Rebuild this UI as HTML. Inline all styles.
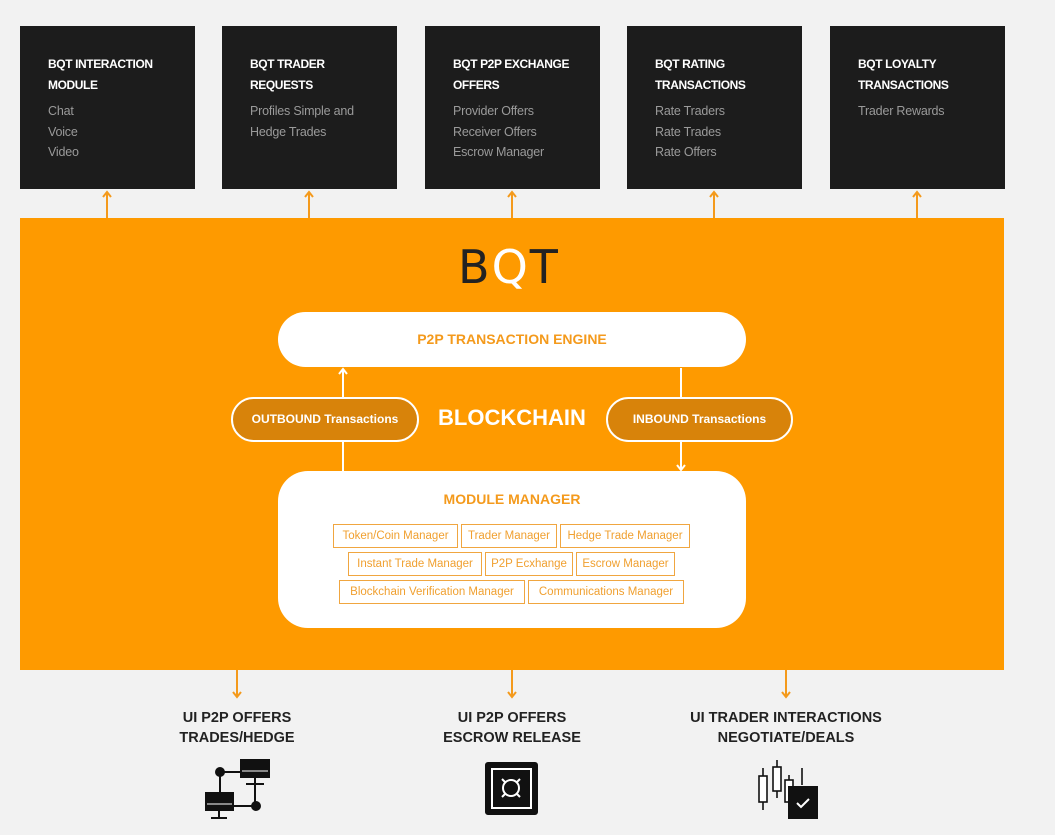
<!DOCTYPE html>
<html><head><style>
*{margin:0;padding:0;box-sizing:border-box}
body{width:1055px;height:835px;background:#f2f2f2;position:relative;overflow:hidden;font-family:"Liberation Sans",sans-serif}
.db{position:absolute;top:26px;width:175px;height:163px;background:#1c1c1c;padding:28px 0 0 28px}
.db b{display:block;color:#fff;font-size:12px;line-height:21px;letter-spacing:-0.4px}
.db span{display:block;color:#9a9a9a;font-size:12.5px;line-height:20.5px;margin-top:5px;letter-spacing:-0.2px}
.db span+span{margin-top:0}
.orange{position:absolute;left:20px;top:218px;width:984px;height:452px;background:#fe9a00}
.pill{position:absolute;background:#fff;border-radius:28px;color:#f49a1c;font-weight:bold;text-align:center}
.tx{position:absolute;height:45px;border:2px solid #fff;border-radius:23px;background:#d8830a;color:#fff;font-size:12px;font-weight:bold;text-align:center;line-height:41px}
.mb{position:absolute;height:24px;border:1px solid #f0a640;color:#f0a030;font-size:11.5px;text-align:center;line-height:22px;background:#fff}
.bl{position:absolute;width:240px;text-align:center;font-size:14.5px;font-weight:bold;color:#222;line-height:19.5px}
</style></head><body>
<div class="db" style="left:20px"><b>BQT INTERACTION<br>MODULE</b><span>Chat</span><span>Voice</span><span>Video</span></div>
<div class="db" style="left:222px"><b>BQT TRADER<br>REQUESTS</b><span>Profiles Simple and</span><span>Hedge Trades</span></div>
<div class="db" style="left:425px"><b>BQT P2P EXCHANGE<br>OFFERS</b><span>Provider Offers</span><span>Receiver Offers</span><span>Escrow Manager</span></div>
<div class="db" style="left:627px"><b>BQT RATING<br>TRANSACTIONS</b><span>Rate Traders</span><span>Rate Trades</span><span>Rate Offers</span></div>
<div class="db" style="left:830px"><b>BQT LOYALTY<br>TRANSACTIONS</b><span>Trader Rewards</span></div>
<svg width="1055" height="835" style="position:absolute;left:0;top:0">
<g stroke="#f49a1c" stroke-width="2" fill="none">
<path d="M107 218V192M103 197l4-5 4 5M309 218V192M305 197l4-5 4 5M512 218V192M508 197l4-5 4 5M714 218V192M710 197l4-5 4 5M917 218V192M913 197l4-5 4 5"/>
<path d="M237 670V697M233 692l4 5 4-5M512 670V697M508 692l4 5 4-5M786 670V697M782 692l4 5 4-5"/>
</g></svg>
<div class="orange"></div>
<div style="position:absolute;left:458px;top:240px;font-size:46px;color:#222;letter-spacing:2px;font-family:'DejaVu Sans',sans-serif">B<span style="color:#fff">Q</span>T</div>
<div class="pill" style="left:278px;top:312px;width:468px;height:55px;line-height:55px;font-size:14px">P2P TRANSACTION ENGINE</div>
<svg width="1055" height="835" style="position:absolute;left:0;top:0">
<g stroke="#fff" stroke-width="2" fill="none">
<path d="M343 472V369M339 374l4-5 4 5M681 368V470M677 465l4 5 4-5"/></g></svg>
<div class="tx" style="left:231px;top:397px;width:188px">OUTBOUND Transactions</div>
<div class="tx" style="left:606px;top:397px;width:187px">INBOUND Transactions</div>
<div style="position:absolute;left:420px;top:405px;width:184px;text-align:center;color:#fff;font-size:22px;font-weight:bold">BLOCKCHAIN</div>
<div class="pill" style="left:278px;top:471px;width:468px;height:157px;border-radius:30px;font-size:14px;padding-top:20px">MODULE MANAGER</div>
<div class="mb" style="left:333px;top:524px;width:125px">Token/Coin Manager</div>
<div class="mb" style="left:461px;top:524px;width:96px">Trader Manager</div>
<div class="mb" style="left:560px;top:524px;width:130px">Hedge Trade Manager</div>
<div class="mb" style="left:348px;top:552px;width:134px">Instant Trade Manager</div>
<div class="mb" style="left:485px;top:552px;width:88px">P2P Ecxhange</div>
<div class="mb" style="left:576px;top:552px;width:99px">Escrow Manager</div>
<div class="mb" style="left:339px;top:580px;width:186px">Blockchain Verification Manager</div>
<div class="mb" style="left:528px;top:580px;width:156px">Communications Manager</div>
<div class="bl" style="left:117px;top:709px">UI P2P OFFERS<br>TRADES/HEDGE</div>
<div class="bl" style="left:392px;top:709px">UI P2P OFFERS<br>ESCROW RELEASE</div>
<div class="bl" style="left:666px;top:709px">UI TRADER INTERACTIONS<br>NEGOTIATE/DEALS</div>
<svg width="1055" height="835" style="position:absolute;left:0;top:0">
<g fill="#111" stroke="#111" stroke-width="2">
<circle cx="220" cy="772" r="4"/><line x1="224" y1="772" x2="240" y2="772"/><rect x="241" y="760" width="28" height="17"/><line x1="255" y1="777" x2="255" y2="802"/><line x1="246" y1="784" x2="264" y2="784"/>
<line x1="220" y1="776" x2="220" y2="792"/><rect x="206" y="793" width="27" height="17"/><line x1="219" y1="810" x2="219" y2="818"/><line x1="211" y1="818" x2="227" y2="818"/>
<circle cx="256" cy="806" r="4"/><line x1="234" y1="806" x2="252" y2="806"/>
<rect x="486" y="763" width="51" height="51" rx="2"/>
</g>
<path d="M242 771h26M207 804h25" stroke="#fff" stroke-width="1"/>
<rect x="492" y="769" width="39" height="39" fill="none" stroke="#fff" stroke-width="2"/>
<circle cx="511" cy="788" r="8" fill="none" stroke="#fff" stroke-width="2"/>
<path d="M502 779l4 4M520 779l-4 4M502 797l4-4M520 797l-4-4" stroke="#fff" stroke-width="2"/>
<g fill="none" stroke="#111" stroke-width="1.6">
<path d="M763 768V810M777 760V798M789 775V805M802 768V785"/>
<rect x="759" y="776" width="8" height="26" fill="#fff"/><rect x="773" y="767" width="8" height="24" fill="#fff"/><rect x="785" y="780" width="8" height="22" fill="#fff"/>
</g>
<rect x="788" y="786" width="30" height="33" fill="#111"/>
<path d="M797 803l4 4 8-8" stroke="#fff" stroke-width="2" fill="none"/>
</svg>
</body></html>
